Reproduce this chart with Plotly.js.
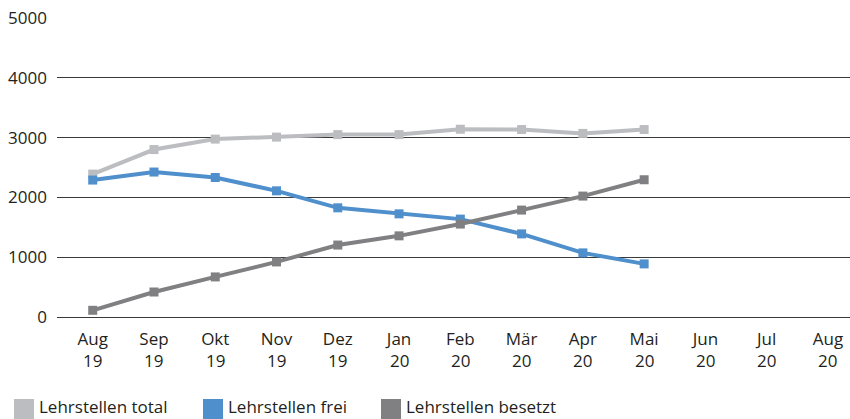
<!DOCTYPE html>
<html>
<head>
<meta charset="utf-8">
<script src="https://cdn.plot.ly/plotly-3.0.1.min.js"></script>
<style>
  html, body { margin: 0; padding: 0; background: #ffffff; }
  #chart { width: 850px; height: 419px; }
</style>
</head>
<body>
<div id="chart"></div>
<script>
// ---- data ----
const categories = ['Aug 19','Sep 19','Okt 19','Nov 19','Dez 19','Jan 20','Feb 20','Mär 20','Apr 20','Mai 20','Jun 20','Jul 20','Aug 20'];
const monthLabels = ['Aug','Sep','Okt','Nov','Dez','Jan','Feb','Mär','Apr','Mai','Jun','Jul','Aug'];
const yearLabels = ['19','19','19','19','19','20','20','20','20','20','20','20','20'];
const seriesNames = ['Lehrstellen total','Lehrstellen frei','Lehrstellen besetzt'];
const total   = [2390, 2800, 2975, 3008, 3050, 3050, 3140, 3135, 3070, 3135, null, null, null];
const frei    = [2290, 2424, 2333, 2110, 1826, 1725, 1637, 1390, 1072, 888, null, null, null];
const besetzt = [112, 418, 670, 921, 1203, 1357, 1554, 1788, 2022, 2295, null, null, null];
const yTicks = [0, 1000, 2000, 3000, 4000, 5000];

// ---- style ----
const colors = ['#bcbdc0', '#4f8fcc', '#808083'];
const fontFamily = '"Open Sans", "Noto Sans", sans-serif';
const textColor = '#231f20';

const W = 850, H = 419;
const M = {l: 57, r: 0, t: 18, b: 102};
const plotW = W - M.l - M.r, plotH = H - M.t - M.b;
const px2x = p => (p - M.l) / plotW;
const px2y = p => (H - M.b - p) / plotH;

const seriesData = [total, frei, besetzt];
const traces = seriesData.map((vals, i) => ({
  type: 'scatter',
  mode: 'lines+markers',
  name: seriesNames[i],
  x: categories,
  y: vals,
  line: {color: colors[i], width: 4},
  marker: {color: colors[i], symbol: 'square', size: 9},
  showlegend: false,
  cliponaxis: false,
  hoverinfo: 'x+y+name'
}));

const xRange = [-0.583, 12.36];

// year labels (second tick line)
const yearAnn = categories.map((c, i) => ({
  xref: 'x', yref: 'paper',
  x: c, y: px2y(360.5),
  xanchor: 'center', yanchor: 'middle',
  text: yearLabels[i], showarrow: false,
  font: {family: fontFamily, size: 17, color: textColor}
}));

// custom legend
const legendLeft = [14, 203, 381];
const legendShapes = seriesNames.map((n, i) => ({
  type: 'rect', xref: 'paper', yref: 'paper',
  x0: px2x(legendLeft[i]), x1: px2x(legendLeft[i] + 20),
  y0: px2y(419), y1: px2y(399),
  fillcolor: colors[i], line: {width: 0}
}));
const legendAnn = seriesNames.map((n, i) => ({
  xref: 'paper', yref: 'paper',
  x: px2x(legendLeft[i] + 24), y: px2y(418.5),
  xanchor: 'left', yanchor: 'bottom',
  borderpad: 0,
  text: n, showarrow: false,
  font: {family: fontFamily, size: 17, color: textColor}
}));

const layout = {
  width: W, height: H,
  margin: M,
  paper_bgcolor: '#ffffff',
  plot_bgcolor: '#ffffff',
  font: {family: fontFamily, size: 17, color: textColor},
  showlegend: false,
  xaxis: {
    type: 'category',
    range: xRange,
    tickmode: 'array',
    tickvals: categories,
    ticktext: monthLabels,
    showgrid: false,
    showline: false,
    zeroline: false,
    ticks: '',
    ticklabelstandoff: 10,
    tickfont: {family: fontFamily, size: 17, color: textColor},
    fixedrange: true
  },
  yaxis: {
    range: [0, 5000],
    tickmode: 'array',
    tickvals: yTicks,
    ticktext: yTicks.map(String),
    showgrid: true,
    gridcolor: '#3a3a3a',
    gridwidth: 1,
    zeroline: true,
    zerolinecolor: '#3a3a3a',
    zerolinewidth: 1,
    showline: false,
    ticks: '',
    ticklabelstandoff: 9,
    tickfont: {family: fontFamily, size: 17, color: textColor},
    fixedrange: true
  },
  shapes: legendShapes,
  annotations: yearAnn.concat(legendAnn)
};

Plotly.newPlot('chart', traces, layout, {displayModeBar: false, staticPlot: true});
</script>
</body>
</html>
